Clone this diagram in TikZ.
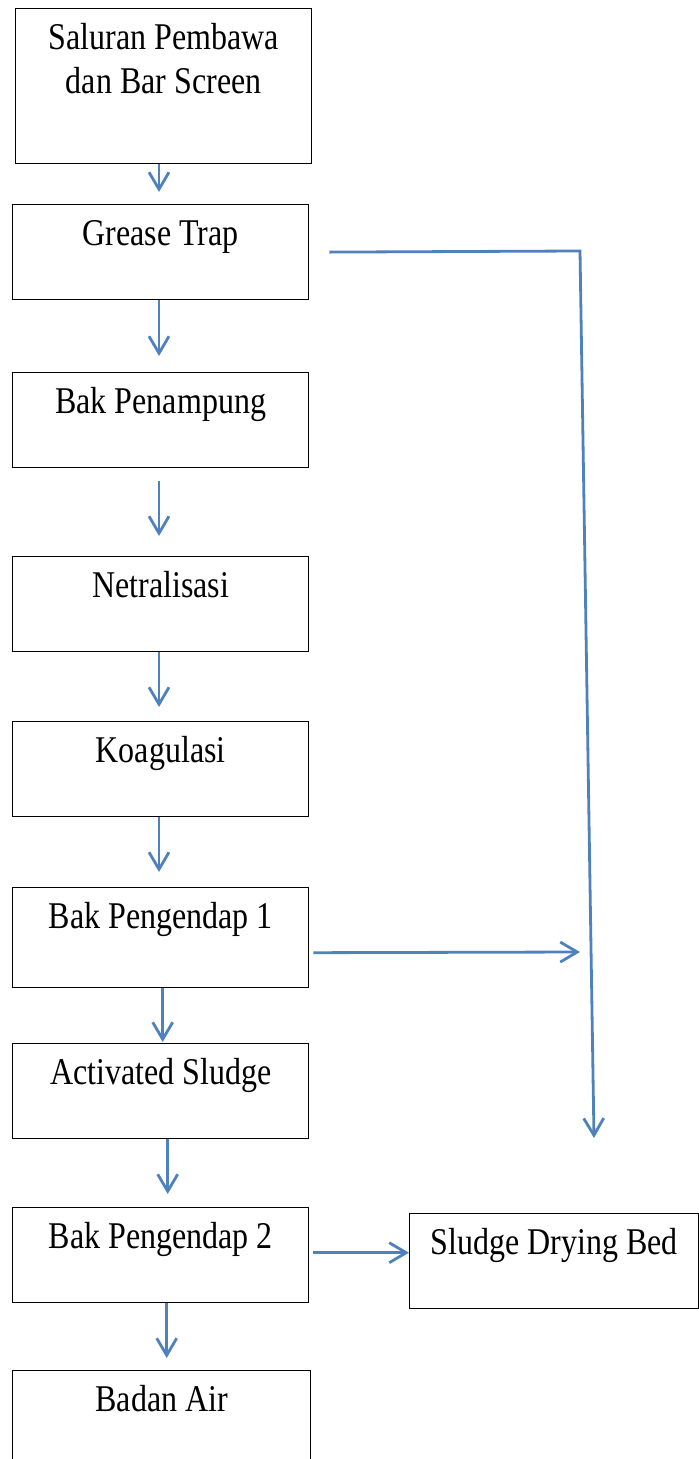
\documentclass[tikz,border=0pt]{standalone}
\usepackage{fontspec}
\setmainfont{Liberation Serif}
\usepackage{graphicx}
\usetikzlibrary{calc, arrows.meta}
\definecolor{flowblue}{RGB}{79,129,189}
\newcommand{\tallt}[1]{\scalebox{1}[1.18]{#1}}

\begin{document}
\begin{tikzpicture}[x=0.5pt, y=-0.5pt,
    box/.style={draw, line width=0.7pt, anchor=north west, minimum width=148pt,
        inner xsep=0pt, inner ysep=0pt, text height=20.25pt, text depth=27.25pt,
        font=\fontsize{16}{18.6}\selectfont},
    flow/.style={draw=flowblue, line width=1.4pt, -{Straight Barb[length=8.5pt, width=10pt]}}]
    \useasboundingbox (0,0) rectangle (699,1459);
    \clip (0,0) rectangle (699,1459);

    \node[box, text depth=57.25pt] (saluran) at (15,8)
        {\tallt{\begin{tabular}[t]{@{}c@{}}Saluran Pembawa\\dan Bar Screen\end{tabular}}};
    \node[box] (grease) at (12,204) {\tallt{Grease Trap}};
    \node[box] (penampung) at (12,372) {\tallt{Bak Penampung}};
    \node[box] (netral) at (12,556) {\tallt{Netralisasi}};
    \node[box] (koagulasi) at (12,721) {\tallt{Koagulasi}};
    \node[box, text depth=29.75pt] (bp1) at (12,887) {\tallt{Bak Pengendap 1}};
    \node[box] (activated) at (12,1043) {\tallt{Activated Sludge}};
    \node[box] (bp2) at (12,1207) {\tallt{Bak Pengendap 2}};
    \node[box, minimum width=144.5pt] (drying) at (409,1213) {\tallt{Sludge Drying Bed}};
    \node[box, minimum width=149pt] (badan) at (12,1370) {\tallt{Badan Air}};

    \coordinate (axis) at (159,0);
    \coordinate (gturn) at (580,251);
    \coordinate (gdrop) at (594,1138);
    \coordinate (bp1in) at (580,952);

    % main line
    \draw[flow, shorten >=6pt] (saluran.south -| axis) -- (grease.north -| axis);
    \draw[flow, shorten >=8pt] (grease.south -| axis) -- (penampung.north -| axis);
    \draw[flow, shorten <=6.5pt, shorten >=10pt] (penampung.south -| axis) -- (netral.north -| axis);
    \draw[flow, shorten >=7pt] (netral.south -| axis) -- (koagulasi.north -| axis);
    \draw[flow, shorten >=7.5pt] (koagulasi.south -| axis) -- (bp1.north -| axis);
    \draw[flow, shorten >=0.5pt] ([xshift=1pt]bp1.south) -- ([xshift=1pt]activated.north);
    \draw[flow, shorten >=6.5pt] ([xshift=3.5pt]activated.south) -- ([xshift=3.5pt]bp2.north);
    \draw[flow, shorten >=6pt] ([xshift=3pt]bp2.south) -- ([xshift=3pt]bp2.south |- badan.north);

    % sludge lines
    \draw[flow, shorten <=10pt] (grease.east) -- (gturn) -- (gdrop);
    \draw[flow, shorten <=2pt] ($(bp1.east)+(0,15)$) -- (bp1in);
    \draw[flow, shorten <=2pt] ([yshift=1.25pt]bp2.east) -- ([yshift=1.25pt]bp2.east -| drying.west);
\end{tikzpicture}
\end{document}
